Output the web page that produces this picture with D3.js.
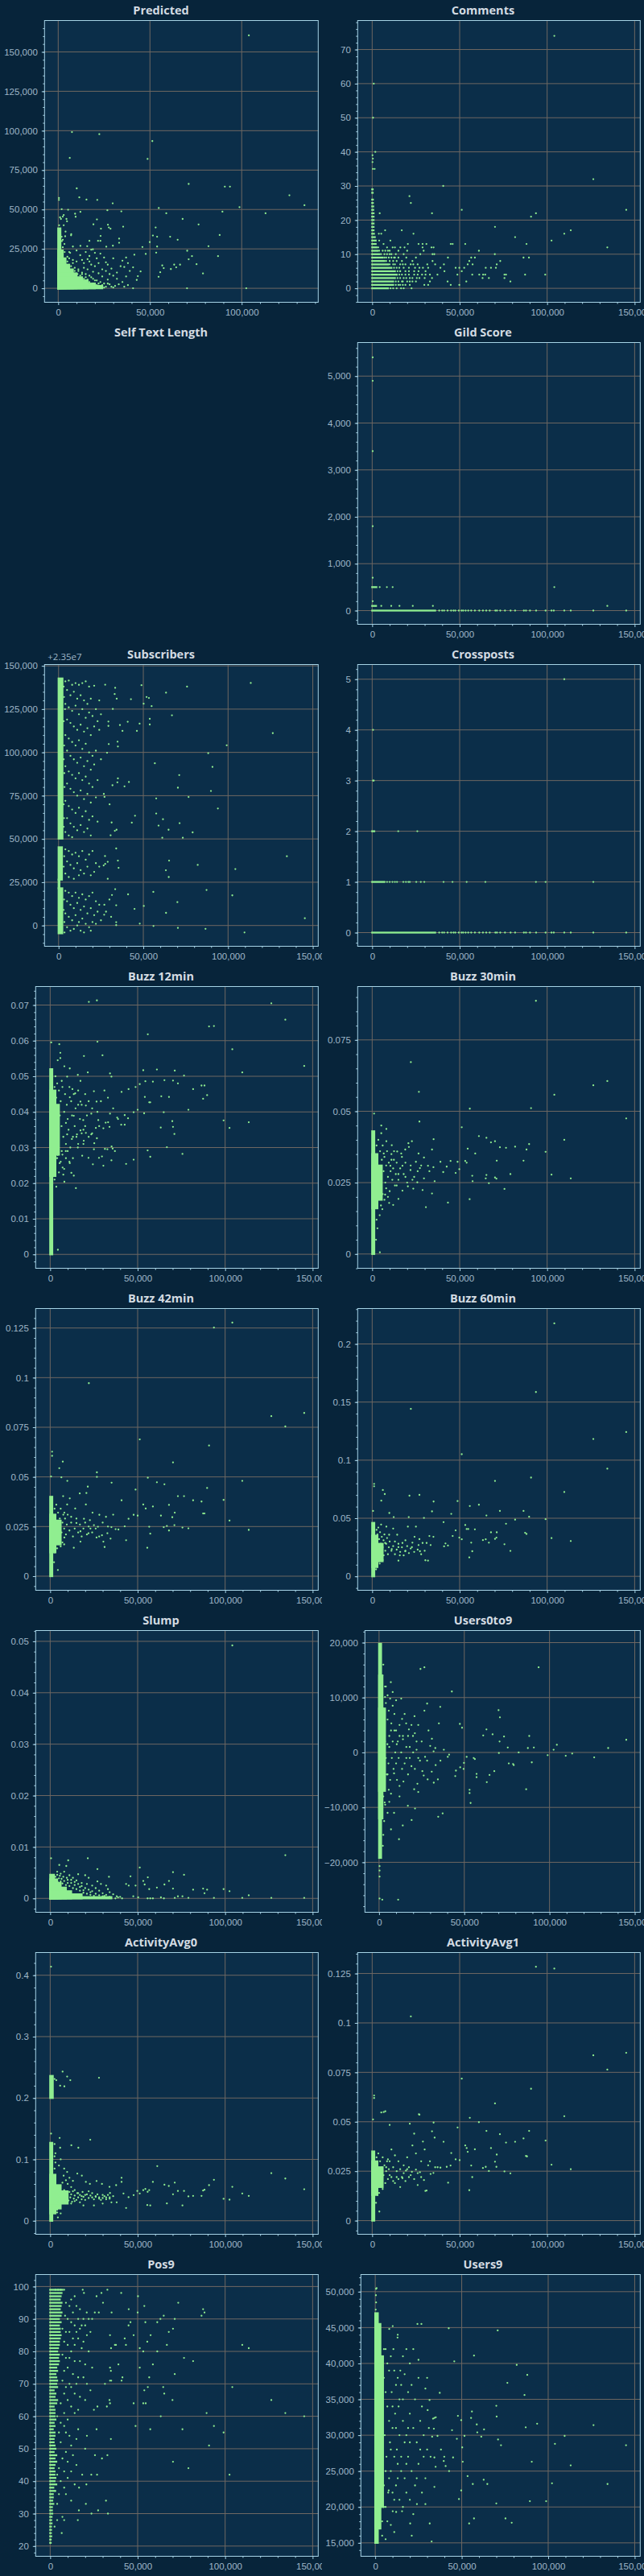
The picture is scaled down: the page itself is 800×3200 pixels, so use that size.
<!DOCTYPE html>
<html>

<head>
    <meta charset="utf-8">
    <style>
        body {
            margin: 0;
            background: #07243a;
        }

        svg {
            display: block;
            font-family: 'Open Sans', 'Noto Sans', sans-serif;
        }

        .tick text {
            fill: #9fb7c8;
            font-size: 11.5px;
        }

        .tick line {
            stroke: #a6d3e6;
        }

        .title {
            fill: #d3dbe2;
            font-size: 14.5px;
            font-weight: 700;
        }

        .offset {
            fill: #9fb7c8;
            font-size: 11.5px;
        }
    </style>
</head>

<body>
    <svg width="800" height="3200"></svg>
</body>

<script src="https://d3js.org/d3.v7.min.js"></script>

<script>
    // x values are in thousands everywhere; y values of Predicted, Subscribers and Users* are in thousands too
    let panelTitles = ["Predicted", "Comments", "Self Text Length", "Gild Score", "Subscribers", "Crossposts",
        "Buzz 12min", "Buzz 30min", "Buzz 42min", "Buzz 60min", "Slump", "Users0to9",
        "ActivityAvg0", "ActivityAvg1", "Pos9", "Users9"]

    let xTickValues = [0, 50, 100, 150]
    let xDomainMain = [-8.3, 153.2]
    let xDomainPredicted = [-7.46, 141.7]

    // ---- Predicted ----
    let predictedYTicks = [0, 25, 50, 75, 100, 125, 150]
    let predictedCore = [[0, 2.5, 0, 24], [0, 1.2, 0, 38], [0, 4, 0, 19], [0, 6, 0, 15], [0, 8, 0, 12], [0, 10, 0, 9.5],
    [0, 13, 0, 7], [0, 16, 0, 5], [0, 20, 0, 3], [0, 24, 0, 1.5]]
    let predictedPoints = [[103.9, 160.5], [7.5, 99.1], [22.4, 97.8], [51.3, 93.4], [6.3, 82.7], [48.7, 82.1], [10.1, 63.4], [71.1, 66.2],
    [90.8, 64.5], [93.6, 64.5], [126.0, 59.0], [134.2, 52.7], [98.8, 51.5], [113.0, 47.6], [89.5, 48.6], [11.5, 57.7], [15.4, 56.3],
    [21.3, 56.1], [29.7, 53.9], [0.4, 57.3], [0.4, 56.1], [54.8, 50.9], [58.9, 47.6], [67.8, 44.0], [76.5, 40.5], [53.1, 38.6],
    [51.6, 33.5], [53.9, 32.7], [61.0, 32.7], [65.1, 30.8], [88.0, 33.8], [49.9, 29.3], [45.9, 26.2], [53.9, 26.5], [81.9, 26.7],
    [53.4, 22.6], [47.7, 21.8], [70.3, 23.8], [72.9, 20.4], [87.1, 20.4], [71.1, 18.4], [41.5, 21.3], [75.4, 15.3], [63.2, 15.0],
    [64.3, 13.3], [66.4, 15.0], [56.7, 14.5], [61.4, 12.2], [57.5, 12.8], [78.9, 9.4], [55.6, 10.2], [54.7, 7.3], [43.4, 7.7],
    [42.8, 5.3], [40.8, 13.3], [44.9, 10.7], [70.2, 0], [102.5, 0], [40.8, 0], [34.4, 48.8], [26.8, 49.5], [27.1, 40.3], [27.6, 38.6],
    [28.5, 37.8], [19.2, 40.6], [21.1, 43.7], [23.3, 37.8], [35.4, 39.1], [33.2, 31.5], [33.2, 28.9], [23.1, 33.2], [21.7, 30.1],
    [23.0, 30.1], [17.0, 30.1], [18.9, 24.7], [12.1, 26.9], [15.8, 26.7], [26.2, 26.4], [29.8, 27.0], [3.4, 28.1], [1.9, 32.7],
    [2.5, 30.8], [7.1, 34.3], [7.0, 33.6], [5.4, 49.8], [1.9, 50.2], [9.2, 47.3], [9.5, 45.4], [12.1, 48.5], [0.5, 40.0], [1.5, 44.0],
    [2.5, 45.5], [3.0, 46.5], [4.5, 44.0], [4.8, 42.5], [1.2, 34.0], [3.8, 33.0], [5, 20], [6.5, 22.5], [8, 18], [10, 17], [13, 18],
    [14, 16], [16, 18.5], [17, 17], [18, 15], [20, 14], [22, 16], [24, 12], [26, 11], [28, 9], [30, 8], [32, 6], [35, 4], [38, 2],
    [36, 1], [30, 0.5], [25, 0.5], [28, 2.5], [32, 10], [34, 14], [36, 13.5], [38, 16], [37, 19.5], [35, 17.5], [30, 19], [29, 12.5],
    [27, 15], [25, 19.5], [23, 22], [20, 22.5], [18, 24.5], [15, 23], [12, 21], [10, 24], [8, 26.5], [6, 23], [9, 13], [11, 11],
    [13, 9], [15, 7], [17, 8], [19, 6], [21, 5], [23, 4], [25, 3], [27, 5.5], [19, 10.5], [22, 9.5], [24, 7.5], [16, 12], [20, 2],
    [33, 2.5], [31, 1.5], [37, 7.5], [39, 11], [21, 19], [14, 13], [12, 6], [26, 16.5], [17, 20.5], [4, 15], [5, 17], [6, 19],
    [7, 14], [8, 16], [9, 11], [10.5, 9], [11, 12], [12, 8], [13, 10], [14, 6], [15, 9], [16, 5.5], [17, 4], [18, 7], [19, 3],
    [20, 5], [21, 2], [22, 3], [23, 1], [24, 2], [26, 1], [27, 3], [29, 1], [2, 30], [1, 45], [3, 40], [4, 36], [2.5, 26], [3.5, 23]]

    // ---- Comments ----
    let commentsYTicks = [0, 10, 20, 30, 40, 50, 60, 70]
    let commentsRows = [[0, 9], [1, 12], [2, 12], [3, 13], [4, 14], [5, 13], [6, 11], [7, 9], [8, 7], [9, 6], [10, 4], [11, 3],
    [12, 2.5], [13, 2], [14, 2], [15, 1.5], [16, 1], [17, 0.8], [18, 0.8], [19, 0.8], [20, 0.8], [21, 0.8], [22, 0.8], [23, 0.6],
    [24, 0.6], [25, 0.4], [26, 0.4], [28, 0.3], [29, 0.3]]
    let commentsPoints = [[104.1, 74], [0.9, 60], [0.5, 50], [1.8, 40], [0.2, 39], [0.4, 38], [0.2, 37], [0.4, 35], [1.4, 35], [126.4, 32],
    [40.6, 30], [21.3, 27], [22.1, 25], [145.2, 23], [51.2, 23], [34.2, 22], [93.6, 22], [90.8, 21], [4.3, 22], [70.2, 18], [113.5, 17],
    [16.9, 17], [7.4, 17], [109.8, 16], [23.6, 16], [3.8, 16], [5.2, 16], [102.5, 14], [81.7, 15], [10.4, 14], [88.2, 13], [53.2, 13],
    [44.9, 13], [46.0, 13], [20.4, 13], [26.5, 13], [28.8, 13], [134.4, 12], [11.7, 12], [16.1, 12], [28.8, 12], [33.9, 12], [35.1, 12],
    [61.0, 11], [70.1, 10], [86.5, 9], [89.6, 9], [73.2, 8], [58.7, 9], [56.6, 9], [55.5, 8], [54.6, 7], [57.4, 7], [71.2, 7], [98.9, 4],
    [87.4, 4], [79.0, 2], [75.6, 4], [76.5, 4], [75.6, 3], [63.4, 4], [64.6, 4], [63.1, 3], [66.7, 3], [61.2, 4], [64.9, 6], [67.9, 6],
    [70.7, 6], [51.2, 5], [53.8, 2], [57.2, 4], [49.8, 1], [44.9, 1], [43.1, 2], [47.7, 6], [49.8, 6], [52.6, 6], [48.7, 4], [39.0, 6],
    [41.0, 7], [41.3, 5], [43.3, 9], [37.3, 4], [34.2, 3], [32.0, 1], [29.8, 1], [33.0, 2], [36.0, 7], [34.5, 8], [34.5, 10], [35.5, 10],
    [31.0, 13], [29.4, 11], [27.5, 10], [25.0, 9], [23.0, 8], [22.0, 7], [24.5, 6], [26.5, 5], [28.5, 4], [30.5, 5], [32.0, 6], [31.5, 7],
    [27.0, 3], [25.0, 2], [21.5, 1], [20.0, 11], [18.0, 10], [19.5, 9], [17.0, 8], [15.0, 11], [13.5, 10], [12.5, 9], [14.0, 6], [16.0, 5],
    [18.0, 3], [20.0, 2], [22.5, 0], [18.0, 0], [16.0, 1], [24.0, 4], [18.5, 12], [13.0, 12], [9.0, 11], [8.5, 12], [6.5, 13], [4.0, 14],
    [3.5, 12], [19, 7], [21, 4], [23, 3], [26, 7], [29, 6], [30, 3], [17, 2], [14, 4], [12, 7], [10, 10], [8, 9],
    [10.5, 0], [12, 0], [14, 0], [16.5, 0], [13.5, 1], [15, 1], [17.5, 1], [19, 1], [13.5, 2], [15, 2], [17.5, 2], [21.5, 2], [23, 2],
    [14.5, 3], [16, 3], [19.5, 3], [21.5, 3], [25.5, 3], [15.5, 4], [17, 4], [19, 4], [26, 4], [30.5, 4], [33, 4], [14.5, 5], [16, 5],
    [19, 5], [21, 5], [24, 5], [12.5, 6], [15.5, 6], [18, 6], [21, 6], [27, 6], [10, 7], [13, 7], [16, 7], [17.5, 7], [23.5, 7],
    [8, 8], [10, 8], [12, 8], [14, 8], [7, 9], [9.5, 9], [11, 9], [13, 9], [15, 9], [5, 10], [7, 10], [8.5, 10], [11, 10], [4, 11],
    [6, 11], [7.5, 11], [10, 11]]

    // posts with large x that sit on y = 0 (Gild Score and Crossposts)
    let sparseZeroX = [38.3, 40, 41.1, 43.1, 45.1, 46.5, 47.5, 49.5, 51.1, 52, 53.4, 54.9, 56.6, 58.7, 61.2, 63.3, 65.2, 67.2, 70.4,
        71.3, 73.2, 75.9, 79.1, 81.7, 86.7, 87.9, 90.2, 93.7, 99.1, 102.5, 103.8, 109.8, 113.5, 126.4, 145.2]

    // ---- Gild Score ----
    let gildYTicks = [0, 1000, 2000, 3000, 4000, 5000]
    let gildRows = [[0, 36], [100, 2.2], [500, 2.4]]
    let gildPoints = [[0.3, 5400], [0.3, 4900], [0.3, 3400], [0.3, 1800], [0.3, 700], [0.3, 200], [4.3, 500], [8.4, 500], [11.7, 500],
    [104.1, 500], [5.2, 100], [10.9, 100], [15.6, 100], [23.2, 100], [34.7, 100], [134.4, 100]]

    // ---- Subscribers (offset +2.35e7) ----
    let subscribersYTicks = [0, 25, 50, 75, 100, 125, 150]
    let subscribersCore = [[0, 2.3, 50.2, 142.7], [0, 2.0, 26.5, 45.2], [0, 0.5, 21.5, 26.5], [0, 2.2, -4.5, 21.5]]
    let subscribersPoints = [[113.4, 140.1], [75.8, 138.0], [126.4, 111.1], [99.2, 104.1], [88.3, 99.5], [90.8, 91.6], [56.8, 93.7],
    [71.2, 86.9], [70.4, 79.6], [89.9, 77.7], [76.7, 74.2], [57.6, 73.4], [94.0, 67.6], [57.6, 64.7], [61.6, 61.4], [59.0, 57.7],
    [64.9, 55.3], [71.4, 59.1], [79.1, 53.8], [73.3, 50.7], [61.2, 50.7], [48.9, 138.8], [63.4, 134.5], [66.9, 121.4], [50.2, 128.1],
    [51.9, 132.0], [53.3, 131.4], [54.9, 126.7], [53.8, 119.4], [53.8, 116.1], [47.8, 116.6], [46.2, 112.4], [42.7, 130.7],
    [40.8, 117.7], [37.7, 112.4], [36.2, 115.8], [33.4, 137.3], [33.1, 133.7], [34.3, 131.0], [34.8, 106.2], [35.0, 103.4],
    [32.0, 125.1], [27.5, 139.1], [29.4, 117.8], [29.4, 115.3], [29.6, 104.8], [28.6, 99.8], [35.0, 85.0], [34.7, 82.7], [31.8, 81.0],
    [38.9, 80.4], [41.5, 82.9], [31.3, 59.5], [30.7, 52.1], [34.2, 55.3], [33.2, 54.7], [27.1, 74.3], [26.7, 76.0], [30.1, 70.0],
    [45.1, 63.4], [43.2, 59.4], [44.8, 9.6], [50.3, 11.3], [47.9, 1.1], [56.0, -0.3], [55.9, 19.4], [41.0, 18.0], [63.4, 7.3],
    [70.1, 13.5], [70.4, -1.4], [86.7, -1.9], [87.3, 20.5], [102.5, 17.4], [109.7, -4.0], [145.3, 4.2], [134.7, 40.0], [104.3, 32.6],
    [82.1, 35.0], [65.2, 37.5], [63.3, 31.9], [65.0, 28.0], [34.0, 44.5], [35.0, 37.5], [35.4, 33.3], [29.0, 36.8], [29.0, 27.0],
    [27.4, 40.1], [26.6, 34.7], [27.5, 35.6], [33.4, 21.0], [34.0, 11.7], [34.0, 1.9], [34.0, 0.2], [31.5, 17.6], [26.9, 6.2],
    [4, 141], [6, 141.5], [8, 139], [10, 140], [12, 139], [14, 140], [16, 141], [18, 138], [21, 138.5], [24, 130], [5, 136], [7, 133],
    [9, 135], [11, 131], [13, 133], [15, 130], [17, 128], [19, 131], [22, 125], [25, 122], [4, 128], [6, 126], [8, 124], [10, 127],
    [12, 122], [14, 125], [16, 120], [18, 123], [20, 121], [23, 118], [5, 119], [7, 117], [9, 115], [11, 113], [13, 116], [15, 112],
    [17, 114], [19, 110], [21, 115], [24, 113], [4, 110], [6, 108], [8, 106], [10, 104], [12, 107], [14, 102], [16, 105], [18, 100],
    [20, 98], [22, 101], [25, 96], [5, 101], [7, 98], [9, 96], [11, 94], [13, 97], [15, 92], [17, 95], [19, 90], [21, 93], [4, 92],
    [6, 89], [8, 87], [10, 85], [12, 88], [14, 84], [16, 86], [18, 82], [20, 80], [23, 84], [5, 82], [7, 79], [9, 77], [11, 75],
    [13, 78], [15, 73], [17, 76], [19, 71], [22, 74], [4, 72], [6, 69], [8, 67], [10, 65], [12, 68], [14, 63], [16, 66], [18, 61],
    [20, 63], [23, 60], [5, 62], [7, 59], [9, 57], [11, 55], [13, 58], [15, 54], [17, 56], [19, 52], [4, 54], [6, 52], [8, 51],
    [4, 44], [6, 43], [8, 41], [10, 42], [12, 40], [14, 43], [16, 38], [18, 41], [20, 43], [22, 36], [24, 34], [5, 37], [7, 35],
    [9, 33], [11, 36], [13, 32], [15, 30], [17, 34], [19, 29], [21, 31], [6, 28], [9, 27], [12, 29], [4, 30], [4, 20], [6, 19],
    [8, 17], [10, 19], [12, 16], [14, 18], [16, 15], [18, 17], [20, 19], [22, 14], [24, 12], [5, 14], [7, 12], [9, 10], [11, 13],
    [13, 9], [15, 11], [17, 7], [19, 10], [21, 6], [23, 8], [4, 7], [6, 5], [8, 3], [10, 6], [12, 2], [14, 4], [16, 1], [18, -1],
    [20, 2], [5, -1], [7, -3], [9, -2], [11, 0], [13, -3], [15, -4], [19, -3], [22, 1], [25, 3], [27, 12], [28, 8], [30, 15], [31, 5],
    [3.5, -4], [3.8, 125], [3.5, 80], [3, 138], [3.2, 132], [3, 118], [3.3, 104], [3, 96], [3.4, 88], [3, 70], [3.2, 62], [3, 57],
    [3.3, 40], [3, 34], [3.2, 15], [3, 9], [3.4, 2]]

    // ---- Crossposts ----
    let crosspostsYTicks = [0, 1, 2, 3, 4, 5]
    let crosspostsRows = [[0, 36], [1, 7], [2, 1.2]]
    let crosspostsPoints = [[109.8, 5], [0.5, 4], [0.5, 3], [0.9, 3], [14.9, 2], [25.8, 2], [8.5, 1], [10, 1], [11.6, 1], [13, 1],
    [14.2, 1], [17.8, 1], [19.3, 1], [20.7, 1], [21.5, 1], [25.2, 1], [27.8, 1], [29.8, 1], [40.8, 1], [45.9, 1], [54.0, 1],
    [64.7, 1], [93.6, 1], [99.1, 1], [126.4, 1]]

    // ---- Buzz 12min ----
    let buzz12YTicks = [0, 0.01, 0.02, 0.03, 0.04, 0.05, 0.06, 0.07]
    let buzz12Core = [[0, 1.2, 0, 0.052], [0, 3, 0.022, 0.046], [0, 5, 0.028, 0.042]]
    let buzz12Points = [[22.1, 0.0709], [26.7, 0.0713], [126.4, 0.0705], [134.4, 0.0659], [90.8, 0.0640], [93.6, 0.0641],
    [55.8, 0.0618], [0.6, 0.0595], [5.2, 0.0590], [27.0, 0.0597], [104.1, 0.0576], [19.3, 0.0557], [29.9, 0.0559], [5.8, 0.0566],
    [145.2, 0.0529], [109.8, 0.0511], [61.0, 0.0519], [71.2, 0.0516], [53.2, 0.0517], [76.5, 0.0502], [21.5, 0.0511], [34.2, 0.0508],
    [35.0, 0.0499], [65.3, 0.0489], [70.2, 0.0488], [73.0, 0.0480], [86.5, 0.0474], [88.2, 0.0474], [81.7, 0.0464], [54.4, 0.0486],
    [51.2, 0.0478], [48.8, 0.0470], [58.7, 0.0485], [44.8, 0.0464], [40.8, 0.0456], [89.7, 0.0447], [87.4, 0.0437], [63.5, 0.0444],
    [67.9, 0.0442], [54.1, 0.0442], [56.6, 0.0427], [57.2, 0.0427], [79.0, 0.0406], [64.9, 0.0399], [53.7, 0.0396], [50.0, 0.0406],
    [47.7, 0.0399], [69.8, 0.0374], [70.2, 0.0358], [71.0, 0.0338], [99.1, 0.0376], [102.5, 0.0355], [113.5, 0.0371], [63.2, 0.0356],
    [66.7, 0.0301], [55.7, 0.0292], [57.2, 0.0274], [75.6, 0.0282], [47.7, 0.0266], [43.4, 0.0254], [14.7, 0.0186], [4.4, 0.0013],
    [42.6, 0.0391], [44.5, 0.0382], [38.3, 0.0384], [40.6, 0.0364], [42.6, 0.0364], [38.8, 0.0380], [37.0, 0.0290], [35.7, 0.0297],
    [35.0, 0.0264], [30.4, 0.0249], [29.6, 0.0275], [27.9, 0.0271], [24.4, 0.0253], [21.9, 0.0271], [25.0, 0.0295], [35.1, 0.0303],
    [32.7, 0.0295], [31.3, 0.0296], [33.9, 0.0358], [33.1, 0.0371], [34.2, 0.0395], [31.7, 0.0370], [30.4, 0.0354], [27.5, 0.0377],
    [26.1, 0.0355], [26.7, 0.0326], [25.2, 0.0312], [23.5, 0.0337], [17.3, 0.0348], [19.2, 0.0319], [20.4, 0.0341], [15.3, 0.0337],
    [12.4, 0.0324], [15.8, 0.0300], [18.3, 0.0277], [9.7, 0.0337], [8.9, 0.0290], [11.2, 0.0256], [12.1, 0.0229], [7.5, 0.0224],
    [7.1, 0.0244], [9.0, 0.0369], [17.3, 0.0429], [14.3, 0.0452], [11.2, 0.0441], [20.4, 0.0418], [23.5, 0.0395], [13.5, 0.0389],
    [6.6, 0.0487], [9.7, 0.0499], [12.7, 0.0464], [17.3, 0.0487], [25.0, 0.0458], [26.5, 0.0429], [18.9, 0.0377], [5.8, 0.0551],
    [4.3, 0.0545], [8.1, 0.0528], [11.2, 0.0522], [15.8, 0.0504], [6.6, 0.0290], [4.3, 0.0279], [5.4, 0.0256], [8.1, 0.0204],
    [13.5, 0.0221], [22, 0.033], [28, 0.036], [19, 0.031], [16, 0.042], [24, 0.041], [2.5, 0.047], [3, 0.05], [3.5, 0.044],
    [4, 0.048], [4.5, 0.041], [5, 0.046], [5.5, 0.039], [6, 0.043], [6.5, 0.036], [7, 0.047], [7.5, 0.033], [8, 0.04], [8.5, 0.045],
    [9, 0.031], [9.5, 0.042], [10, 0.038], [10.5, 0.035], [11, 0.047], [11.5, 0.03], [12, 0.043], [12.5, 0.039], [13, 0.027],
    [13.5, 0.045], [14, 0.036], [14.5, 0.041], [15, 0.033], [16, 0.046], [17, 0.038], [18, 0.042], [19, 0.035], [20, 0.045],
    [21, 0.039], [22, 0.043], [2.5, 0.021], [3, 0.025], [3.5, 0.019], [4, 0.027], [5, 0.023], [6, 0.026], [7, 0.028], [8, 0.024],
    [9, 0.027], [10, 0.029], [11, 0.026], [13, 0.033], [16, 0.031], [18, 0.034], [20, 0.036], [24, 0.034], [27, 0.04], [29, 0.043],
    [31, 0.046], [33, 0.044], [36, 0.041]]

    // ---- Buzz 30min ----
    let buzz30YTicks = [0, 0.025, 0.05, 0.075]
    let buzz30Core = [[0, 1.2, 0, 0.043], [0, 3, 0.016, 0.035], [0, 5.5, 0.019, 0.031]]
    let buzz30Points = [[93.6, 0.0887], [22.1, 0.0672], [134.4, 0.0606], [126.4, 0.0591], [26.7, 0.0568], [104.1, 0.0558],
    [55.8, 0.0509], [90.8, 0.0511], [1.1, 0.0492], [145.2, 0.0475], [27.0, 0.0464], [51.2, 0.0444], [5.2, 0.0450], [8.1, 0.0438],
    [5.2, 0.0423], [109.8, 0.0400], [61.0, 0.0413], [65.3, 0.0407], [67.9, 0.0391], [70.2, 0.0395], [73.0, 0.0374], [76.5, 0.0372],
    [81.7, 0.0376], [89.7, 0.0385], [88.2, 0.0366], [86.5, 0.0327], [99.1, 0.0358], [58.9, 0.0352], [54.6, 0.0369], [53.2, 0.0326],
    [54.0, 0.0320], [71.2, 0.0327], [75.6, 0.0228], [102.5, 0.0278], [113.5, 0.0265], [79.0, 0.0280], [70.2, 0.0268], [71.0, 0.0264],
    [65.3, 0.0277], [64.9, 0.0265], [66.7, 0.0248], [57.2, 0.0274], [57.4, 0.0255], [55.7, 0.0192], [49.8, 0.0297], [47.7, 0.0284],
    [48.8, 0.0323], [44.8, 0.0326], [42.6, 0.0306], [40.6, 0.0287], [39.0, 0.0323], [43.3, 0.0180], [35.1, 0.0402], [34.2, 0.0366],
    [35.0, 0.0304], [32.7, 0.0290], [30.7, 0.0164], [28.8, 0.0224], [34.2, 0.0212], [35.7, 0.0255], [22.7, 0.0395], [20.7, 0.0388],
    [21.0, 0.0375], [18.9, 0.0366], [16.6, 0.0352], [14.3, 0.0359], [12.4, 0.0330], [10.4, 0.0309], [4.4, 0.0006], [17.3, 0.0309],
    [21.9, 0.0294], [25.0, 0.0323], [27.3, 0.0301], [29.6, 0.0265], [25.8, 0.0251], [23.5, 0.0229], [20.4, 0.0237], [17.3, 0.0222],
    [15.0, 0.0193], [12.0, 0.0172], [9.7, 0.0179], [7.4, 0.0208], [5.8, 0.0157], [4.3, 0.0136], [8.1, 0.0395], [11.2, 0.0381],
    [6.6, 0.0352], [29.6, 0.0338], [31.9, 0.0309], [26.5, 0.0352], [19, 0.027], [23, 0.026], [15, 0.028], [11, 0.035], [14, 0.024],
    [2.5, 0.038], [3, 0.034], [3.5, 0.04], [4, 0.03], [4.5, 0.036], [5, 0.027], [5.5, 0.033], [6, 0.038], [6.5, 0.029], [7, 0.034],
    [7.5, 0.025], [8, 0.031], [8.5, 0.036], [9, 0.027], [9.5, 0.032], [10, 0.022], [10.5, 0.029], [11, 0.033], [11.5, 0.026],
    [12, 0.03], [12.5, 0.036], [13, 0.024], [13.5, 0.028], [14, 0.032], [15, 0.026], [16, 0.03], [17, 0.034], [18, 0.028],
    [19, 0.032], [20, 0.025], [22, 0.031], [24, 0.027], [26, 0.029], [28, 0.031], [2.5, 0.018], [3, 0.022], [4, 0.02], [5, 0.017],
    [6, 0.021], [7, 0.019], [8, 0.023], [9, 0.02], [2.5, 0.012], [3, 0.009], [2.2, 0.005]]

    // ---- Buzz 42min ----
    let buzz42YTicks = [0, 0.025, 0.05, 0.075, 0.1, 0.125]
    let buzz42Core = [[0, 1.2, 0, 0.04], [0, 3, 0.012, 0.031], [0, 6, 0.016, 0.028]]
    let buzz42Points = [[104.1, 0.1277], [93.6, 0.1252], [22.1, 0.0972], [145.2, 0.0822], [126.4, 0.0806], [134.4, 0.0754],
    [51.2, 0.0689], [90.8, 0.0658], [1.1, 0.0627], [1.1, 0.0606], [70.2, 0.0573], [7.2, 0.0577], [5.2, 0.0544], [6.4, 0.0498],
    [26.7, 0.0523], [26.7, 0.0500], [0.5, 0.0502], [55.8, 0.0496], [109.8, 0.0480], [61.0, 0.0473], [65.3, 0.0463], [9.8, 0.0480],
    [35.1, 0.0471], [89.7, 0.0444], [48.8, 0.0436], [21.5, 0.0451], [20.7, 0.0419], [16.9, 0.0417], [73.0, 0.0403], [76.5, 0.0403],
    [99.1, 0.0384], [81.7, 0.0382], [86.5, 0.0376], [40.8, 0.0382], [67.9, 0.0359], [53.2, 0.0361], [58.7, 0.0351], [54.6, 0.0341],
    [87.4, 0.0316], [88.2, 0.0316], [71.2, 0.0320], [69.8, 0.0297], [71.0, 0.0257], [63.3, 0.0305], [64.9, 0.0247], [66.7, 0.0253],
    [67.9, 0.0230], [102.5, 0.0280], [113.5, 0.0233], [75.6, 0.0245], [79.0, 0.0241], [56.6, 0.0249], [57.2, 0.0214], [55.5, 0.0143],
    [50.0, 0.0305], [47.7, 0.0309], [44.8, 0.0289], [42.6, 0.0251], [43.4, 0.0181], [39.0, 0.0235], [37.4, 0.0237], [35.0, 0.0247],
    [34.5, 0.0189], [30.4, 0.0174], [31.1, 0.0147], [29.6, 0.0206], [27.3, 0.0249], [25.0, 0.0257], [22.7, 0.0282], [19.3, 0.0289],
    [4.4, 0.0031], [20.4, 0.0361], [24.2, 0.0320], [28.1, 0.0309], [31.9, 0.0299], [32.7, 0.0216], [26.5, 0.0195], [21.9, 0.0216],
    [17.3, 0.0226], [15.0, 0.0268], [12.0, 0.0299], [9.7, 0.0361], [8.1, 0.0320], [14.3, 0.0341], [17.3, 0.0174], [13.5, 0.0143],
    [8.1, 0.0195], [5.8, 0.0174], [7.4, 0.0403], [11.2, 0.0392], [30, 0.027], [36, 0.031], [33, 0.025], [23, 0.024],
    [2.5, 0.034], [3, 0.03], [3.5, 0.036], [4, 0.027], [4.5, 0.032], [5, 0.024], [5.5, 0.029], [6, 0.034], [6.5, 0.022], [7, 0.027],
    [7.5, 0.031], [8, 0.024], [8.5, 0.029], [9, 0.021], [9.5, 0.026], [10, 0.031], [11, 0.023], [12, 0.027], [13, 0.02], [14, 0.024],
    [15, 0.029], [16, 0.022], [17, 0.026], [18, 0.02], [19, 0.024], [20, 0.027], [21, 0.021], [22, 0.025], [24, 0.022], [26, 0.024],
    [28, 0.02], [2.5, 0.012], [3, 0.016], [4, 0.014], [5, 0.018], [6, 0.015], [7, 0.017], [8, 0.016], [2.2, 0.007]]

    // ---- Buzz 60min ----
    let buzz60YTicks = [0, 0.05, 0.1, 0.15, 0.2]
    let buzz60Core = [[0, 1.2, 0, 0.046], [0, 3, 0.008, 0.035], [0, 6, 0.013, 0.028]]
    let buzz60Points = [[104.1, 0.2177], [93.6, 0.1586], [22.1, 0.1441], [145.2, 0.1242], [126.4, 0.1182], [51.2, 0.1051],
    [134.4, 0.0927], [90.8, 0.0850], [70.2, 0.0821], [1.1, 0.0796], [1.1, 0.0775], [6.1, 0.0743], [7.2, 0.0708], [109.8, 0.0726],
    [21.3, 0.0694], [27.0, 0.0701], [5.2, 0.0651], [35.1, 0.0644], [48.8, 0.0648], [55.8, 0.0605], [61.0, 0.0616], [0.5, 0.0563],
    [9.8, 0.0545], [73.0, 0.0563], [86.5, 0.0563], [45.2, 0.0538], [65.3, 0.0524], [89.7, 0.0513], [20.9, 0.0510], [34.2, 0.0559],
    [29.6, 0.0503], [12.3, 0.0510], [99.1, 0.0492], [81.7, 0.0488], [40.8, 0.0467], [76.5, 0.0453], [53.2, 0.0442], [54.0, 0.0407],
    [54.9, 0.0407], [47.7, 0.0396], [49.8, 0.0333], [51.2, 0.0319], [46.0, 0.0347], [43.3, 0.0265], [41.9, 0.0283], [41.1, 0.0258],
    [58.7, 0.0404], [56.6, 0.0290], [57.2, 0.0216], [55.5, 0.0163], [67.9, 0.0379], [64.9, 0.0319], [66.7, 0.0290], [63.3, 0.0312],
    [71.2, 0.0379], [71.0, 0.0333], [70.2, 0.0322], [87.4, 0.0375], [88.2, 0.0365], [102.5, 0.0329], [113.5, 0.0304], [75.6, 0.0276],
    [79.0, 0.0219], [35.0, 0.0340], [33.4, 0.0269], [32.7, 0.0347], [31.1, 0.0287], [30.4, 0.0138], [31.9, 0.0135], [28.8, 0.0287],
    [27.3, 0.0216], [24.2, 0.0340], [22.7, 0.0251], [17.3, 0.0287], [20.4, 0.0428], [18.9, 0.0216], [15.0, 0.0251], [14.3, 0.0358],
    [12.0, 0.0411], [9.7, 0.0358], [8.1, 0.0428], [5.1, 0.0446], [7.4, 0.0287], [11.2, 0.0234], [15.8, 0.0181], [25.0, 0.0428],
    [26.5, 0.0269], [15.0, 0.0135], [4.3, 0.0110], [6.6, 0.0181], [19, 0.031], [23, 0.029], [27, 0.032], [13, 0.03],
    [2.5, 0.04], [3, 0.036], [3.5, 0.042], [4, 0.032], [4.5, 0.038], [5, 0.028], [5.5, 0.034], [6, 0.025], [6.5, 0.031], [7, 0.036],
    [7.5, 0.022], [8, 0.028], [8.5, 0.033], [9, 0.019], [9.5, 0.025], [10, 0.03], [11, 0.022], [12, 0.026], [13, 0.019], [14, 0.023],
    [15, 0.028], [16, 0.021], [17, 0.025], [18, 0.018], [19, 0.022], [20, 0.026], [21, 0.02], [22, 0.024], [24, 0.021], [26, 0.023],
    [28, 0.019], [30, 0.022], [2.5, 0.012], [3, 0.015], [4, 0.013], [5, 0.016], [6, 0.014], [2.2, 0.006]]

    // ---- Slump ----
    let slumpYTicks = [0, 0.01, 0.02, 0.03, 0.04, 0.05]
    let slumpCore = [[0, 2.2, 0, 0.0046], [0, 4, 0, 0.0037], [0, 6, 0, 0.003], [0, 9, 0, 0.0021], [0, 12, 0, 0.0014],
    [0, 18, 0, 0.0008], [0, 35, 0, 0.00025]]
    let slumpPoints = [[104.1, 0.0492], [134.4, 0.0084], [0.5, 0.0078], [21.5, 0.0078], [10.3, 0.0074], [5.2, 0.0065], [9.2, 0.0063],
    [51.2, 0.0060], [27.0, 0.0057], [70.2, 0.0051], [76.5, 0.0046], [45.9, 0.0043], [55.8, 0.0041], [33.6, 0.0042], [67.9, 0.0034],
    [65.3, 0.0027], [53.2, 0.0034], [54.0, 0.0027], [48.8, 0.0025], [44.9, 0.0025], [43.4, 0.0028], [70.2, 0.0019], [61.0, 0.0021],
    [56.6, 0.0018], [99.1, 0.0018], [102.5, 0.0014], [87.4, 0.0019], [89.7, 0.0017], [81.7, 0.0017], [88.2, 0.0010], [113.5, 0.0006],
    [126.4, 0.0001], [145.2, 0.0001], [109.8, 0.0001], [93.6, 0.0001], [79.0, 0.0001], [75.6, 0.0004], [73.0, 0.0004], [71.2, 0.0001],
    [65.0, 0], [63.3, 0.0002], [58.7, 0], [57.2, 0], [55.7, 0], [50.3, 0.0002], [47.5, 0.0004], [41.1, 0], [38.8, 0.0002], [37.3, 0],
    [15, 0.0035], [18, 0.003], [20, 0.0045], [22, 0.004], [24, 0.0025], [26, 0.002], [28, 0.0015], [30, 0.001], [32, 0.0025],
    [34, 0.0012], [36, 0.0008], [13, 0.004], [12, 0.003], [11, 0.0045], [17, 0.0022], [19, 0.0016], [23, 0.0012], [25, 0.0005],
    [8, 0.0052], [6, 0.0048], [4, 0.0052], [14, 0.0026], [29, 0.0028], [31, 0.0005], [38, 0.0004], [40, 0.0003], [21, 0.0028],
    [16, 0.0047], [10, 0.0036], [27, 0.0033], [33, 0.0018], [3, 0.0042], [3.5, 0.0036], [4, 0.0046], [4.5, 0.0031], [5, 0.0039],
    [5.5, 0.0044], [6, 0.0033], [6.5, 0.0038], [7, 0.0029], [7.5, 0.0042], [8, 0.0034], [9, 0.0026], [9.5, 0.004], [10, 0.003],
    [11, 0.0024], [12, 0.0036], [13, 0.002], [14, 0.0032], [15, 0.0018], [16, 0.0028], [17, 0.0015], [18, 0.0024], [19, 0.0011],
    [20, 0.002], [21, 0.0009], [22, 0.0017], [23, 0.0007], [24, 0.0014], [26, 0.0009], [28, 0.0006], [30, 0.0004], [32, 0.0007],
    [34, 0.0003]]

    // ---- Users0to9 ----
    let users0to9YTicks = [-20, -10, 0, 10, 20]
    let users0to9Core = [[0, 1.2, -19.2, 19.8], [0, 2, -12, 14], [0, 3.5, -7, 8]]
    let users0to9Points = [[93.6, 15.5], [24.3, 15.2], [26.6, 15.5], [6.9, 12.8], [42.7, 11.1], [6.5, 9.8], [3.5, 10.1], [5.0, 10.4],
    [70.1, 7.7], [35.9, 8.3], [28.2, 8.9], [26.6, 7.6], [70.9, 6.4], [20.8, 6.6], [47.4, 5.2], [48.7, 4.5], [35.1, 5.3], [63.0, 4.2],
    [66.6, 3.3], [61.1, 3.1], [73.3, 2.9], [145.0, 2.3], [88.1, 3.0], [104.3, 1.4], [102.4, 0.5], [134.4, 0.8], [90.8, 0.9],
    [87.3, 0.8], [75.5, 0.9], [70.7, 2.0], [70.3, -0.1], [81.9, 0], [109.5, -0.6], [113.3, -0.2], [98.9, -0.5], [126.2, -0.9],
    [89.6, -1.8], [78.6, -2.1], [76.1, -2.0], [79.0, -2.3], [67.6, -3.4], [64.8, -4.1], [63.2, -5.4], [57.2, -3.9], [57.2, -4.5],
    [55.5, -1.0], [56.2, -1.2], [53.1, -6.8], [53.1, -7.4], [53.7, -9.2], [86.3, -6.7], [49.6, -3.0], [51.4, -0.8], [49.8, -1.9],
    [45.1, -3.3], [44.7, -4.3], [47.6, -2.7], [40.3, -0.8], [41.1, -0.4], [34.7, -11.7], [37.3, -11.1], [21.1, -10.2], [16.9, -9.7],
    [19.1, -12.3], [13.9, -13.3], [11.7, -15.8], [8.8, -11.0], [3.3, -9.1], [3.6, -9.5], [11.2, -26.8], [1.9, -26.8], [34.5, -4.9],
    [32.1, -5.5], [30.9, -3.5], [33.2, -2.3], [28.5, -4.9], [28.2, -1.5], [26.2, -4.2], [23.0, -7.2], [20.6, -6.7], [22.5, -5.7],
    [25.4, -3.4], [13.5, 6.1], [15.9, 5.3], [17.5, 4.2], [19.9, 3.0], [12.0, 3.0], [10.4, 1.5], [7.2, 5.3], [5.7, 7.6], [4.9, 1.5],
    [8.8, -3.8], [12.0, -6.1], [14.3, -5.3], [5.7, -6.8], [18, 1.0], [22, 0.5], [25, 2.0], [30, 1.2], [32, 0.2], [27, -0.8],
    [24, -1.5], [19, -2.5], [16, -1.0], [14, 2.4], [10, -2.0], [9, 4.0], [21, 3.5], [23, 5.0], [29, 4.0], [31, 2.5], [33, 0.8],
    [36, -1.5], [38, 0.5], [17, -4.0], [12, -8.0], [7, -7.5], [5, -4.0], [6, 3.0], [8, 8.5], [10, 9.5], [13, 9.8], [15, 7.0],
    [4, 12.0], [3, -12.5], [5, -11.0], [7, -14.0], [2.5, -15], [2, 14], [0.3, -20.7], [0.3, -21.5], [0.3, -22.6], [0.3, -26.6],
    [2.5, 8], [3, 5], [3.5, 2], [4, -1], [4.5, -4], [5, 6], [5.5, -2], [6, 1], [6.5, -5], [7, 4], [7.5, -1], [8, 2], [8.5, -3],
    [9, 7], [9.5, 0], [10, 4], [10.5, -5], [11, 2], [11.5, -1], [12, 5], [13, 0], [13.5, -3], [14, 3], [15, -2], [16, 1], [17, 3],
    [18, -1], [19, 5], [20, 0], [21, -3], [22, 2], [23, -1], [2.5, -8], [3, -6], [3.5, 12], [2.5, 16], [2.2, -17], [4, 9], [6, -9],
    [8, 11]]

    // ---- ActivityAvg0 ----
    let activity0YTicks = [0, 0.1, 0.2, 0.3, 0.4]
    let activity0Core = [[0, 1.2, 0, 0.127], [0, 1.5, 0.2, 0.236], [0, 3, 0.012, 0.075], [0, 6, 0.02, 0.058], [0, 10, 0.028, 0.048]]
    let activity0Points = [[0.5, 0.414], [7.1, 0.243], [9.7, 0.235], [11.5, 0.229], [27.9, 0.233], [5.7, 0.220], [8.1, 0.219],
    [3.5, 0.229], [2.5, 0.231], [5.4, 0.135], [22.9, 0.132], [2.5, 0.125], [5.7, 0.119], [12.1, 0.123], [16.1, 0.119], [0.5, 0.142],
    [61.2, 0.089], [126.4, 0.0776], [134.4, 0.0688], [93.6, 0.0668], [145.2, 0.0513], [90.8, 0.058], [104.1, 0.0553], [40.8, 0.070],
    [40.8, 0.0634], [58.7, 0.0634], [71.2, 0.0621], [70.2, 0.0432], [65.3, 0.0587], [67.8, 0.0567], [109.8, 0.0445], [113.5, 0.0405],
    [99.1, 0.0358], [102.5, 0.0344], [87.4, 0.0492], [88.2, 0.0506], [86.5, 0.0405], [81.7, 0.0405], [79, 0.0398], [76.5, 0.0486],
    [73, 0.0486], [75.6, 0.025], [66.7, 0.0283], [49.8, 0.0486], [51.2, 0.0445], [53.2, 0.0499], [54.4, 0.0519], [55.7, 0.0472],
    [56.6, 0.0499], [57.2, 0.025], [55.5, 0.0256], [47.7, 0.0418], [44.8, 0.0384], [43.4, 0.0209], [41.9, 0.0445], [37.7, 0.058],
    [33.9, 0.0553], [34.2, 0.0452], [29.6, 0.06], [26.5, 0.0648], [22.7, 0.06], [20.4, 0.0634], [18.1, 0.0735], [15.5, 0.0769],
    [9.7, 0.0796], [7.7, 0.0735], [4.4, 0.0054], [10, 0.06], [12, 0.055], [14, 0.05], [16, 0.045], [18, 0.04], [20, 0.042],
    [22, 0.048], [24, 0.038], [26, 0.04], [28, 0.036], [30, 0.042], [32, 0.035], [34, 0.038], [36, 0.04], [38, 0.03], [19, 0.025],
    [17, 0.03], [14, 0.032], [12, 0.028], [9, 0.035], [7, 0.03], [5, 0.09], [6, 0.1], [8, 0.085], [11, 0.07], [13, 0.065], [3, 0.11],
    [4, 0.018], [25, 0.025], [30, 0.028], [35, 0.03], [6, 0.012], [4, 0.0135], [10.5, 0.033], [11, 0.047], [11.5, 0.038],
    [12, 0.043], [12.5, 0.031], [13, 0.048], [13.5, 0.036], [14, 0.041], [15, 0.034], [15.5, 0.045], [16, 0.038], [17, 0.042],
    [18, 0.035], [18.5, 0.047], [19, 0.039], [20, 0.034], [21, 0.043], [22, 0.037], [23, 0.041], [24, 0.045], [25, 0.035],
    [26, 0.039], [27, 0.043], [28, 0.038], [29, 0.034], [30, 0.037], [31, 0.04], [32, 0.038], [33, 0.042], [34, 0.036], [3.5, 0.024],
    [4.5, 0.03], [5.5, 0.026], [7, 0.062], [8, 0.05], [9, 0.066], [2.5, 0.085], [3, 0.095], [2.5, 0.105]]

    // ---- ActivityAvg1 ----
    let activity1YTicks = [0, 0.025, 0.05, 0.075, 0.1, 0.125]
    let activity1Core = [[0, 1.2, 0, 0.035], [0, 3, 0.013, 0.03], [0, 6, 0.017, 0.027]]
    let activity1Points = [[93.6, 0.1284], [104.1, 0.1275], [22.1, 0.1033], [145.2, 0.0849], [126.4, 0.0836], [134.4, 0.0764],
    [51.2, 0.0718], [90.8, 0.0667], [70.2, 0.0593], [1.1, 0.0633], [1.1, 0.062], [5.2, 0.0547], [6.6, 0.0549], [7.5, 0.0553],
    [26.7, 0.0538], [27.0, 0.0536], [109.8, 0.0528], [55.8, 0.052], [61.0, 0.0498], [0.5, 0.0512], [35.1, 0.0496], [21.5, 0.049],
    [10.0, 0.0484], [48.8, 0.0471], [65.3, 0.0454], [89.7, 0.0454], [73.0, 0.0437], [86.5, 0.0416], [81.7, 0.0399], [76.5, 0.0395],
    [99.1, 0.0405], [40.8, 0.0399], [45.2, 0.0342], [34.2, 0.0452], [35.7, 0.042], [53.2, 0.038], [54.0, 0.0367], [54.6, 0.0348],
    [58.7, 0.0361], [67.9, 0.0367], [71.2, 0.0334], [70.2, 0.0298], [71.0, 0.0272], [87.9, 0.0327], [88.5, 0.0325], [102.5, 0.0283],
    [113.5, 0.026], [75.6, 0.0249], [79.0, 0.0239], [64.9, 0.0272], [63.3, 0.0266], [66.7, 0.0251], [56.6, 0.0279], [57.2, 0.022],
    [55.5, 0.0154], [50.0, 0.0306], [47.7, 0.031], [44.8, 0.0279], [42.6, 0.0272], [43.4, 0.0192], [39.0, 0.0268], [37.4, 0.027],
    [35.0, 0.0241], [33.4, 0.0236], [31.1, 0.0152], [30.4, 0.015], [29.6, 0.0205], [27.3, 0.0245], [25.0, 0.0258], [22.7, 0.0247],
    [19.3, 0.0253], [17.3, 0.0215], [4.1, 0.0046], [20, 0.032], [23, 0.038], [25, 0.034], [28, 0.03], [30, 0.036], [32, 0.028],
    [18, 0.028], [15, 0.03], [13, 0.033], [11, 0.036], [9, 0.031], [8, 0.027], [14, 0.022], [16, 0.017], [12, 0.02], [10, 0.023],
    [6, 0.016], [4, 0.014], [21, 0.022], [26, 0.018], [33, 0.03], [36, 0.027], [24, 0.044], [29, 0.04], [2.5, 0.032], [3, 0.028],
    [3.5, 0.034], [4, 0.025], [4.5, 0.03], [5, 0.021], [5.5, 0.027], [6, 0.032], [6.5, 0.023], [7, 0.028], [7.5, 0.019], [8, 0.025],
    [8.5, 0.03], [9, 0.021], [9.5, 0.026], [10, 0.03], [11, 0.022], [12, 0.027], [13, 0.019], [14, 0.025], [15, 0.021], [16, 0.026],
    [17, 0.022], [18, 0.024], [19, 0.02], [20, 0.026], [21, 0.027], [22, 0.023], [24, 0.021], [26, 0.024], [28, 0.022], [2.5, 0.015],
    [3, 0.013], [4, 0.018], [2.2, 0.009]]

    // ---- Pos9 ----
    let pos9YTicks = [20, 30, 40, 50, 60, 70, 80, 90, 100]
    let pos9Rows = [[21, 0.3], [22, 0.3], [23, 0.6], [24, 0.4], [25, 0.5], [26, 0.5], [27, 0.8], [28, 0.6], [29, 0.8], [30, 1.2],
    [31, 1.0], [32, 1.0], [33, 1.8], [34, 1.2], [35, 1.5], [36, 1.5], [37, 2.5], [38, 1.8], [39, 3.5], [40, 2.5], [41, 3.0],
    [42, 2.5], [43, 2.5], [44, 2.0], [45, 2.5], [46, 3.5], [47, 2.5], [48, 3.5], [49, 2.0], [50, 3.0], [51, 2.5], [52, 2.0],
    [53, 2.0], [54, 2.5], [55, 2.5], [56, 1.5], [57, 2.5], [58, 2.0], [59, 3.0], [60, 2.5], [61, 2.5], [62, 2.5], [63, 2.0],
    [64, 3.5], [65, 4.0], [66, 2.5], [67, 3.0], [68, 2.0], [69, 4.0], [70, 3.5], [71, 4.0], [72, 3.5], [73, 3.0], [74, 4.0],
    [75, 3.5], [76, 4.5], [77, 5.0], [78, 4.5], [79, 5.0], [80, 4.0], [81, 4.5], [82, 5.0], [83, 5.0], [84, 5.5], [85, 6.0],
    [86, 5.5], [87, 5.5], [88, 5.0], [89, 6.0], [90, 5.0], [91, 6.0], [92, 6.5], [93, 5.5], [94, 6.0], [95, 6.5], [96, 5.5],
    [97, 6.0], [98, 6.5], [99, 7.0]]
    let pos9Points = [[32.7, 99], [18.6, 99], [19.3, 98], [40.6, 98], [29.3, 98], [50.2, 97], [26.5, 97], [30.2, 95], [73.2, 95],
    [53.8, 94], [44.9, 93], [87.4, 93], [88.2, 92], [50.0, 92], [35.1, 92], [27.8, 92], [25.5, 92], [20.9, 92], [86.5, 91], [64.9, 91],
    [63.0, 90], [71.2, 90], [45.9, 89], [54.4, 89], [61.2, 89], [44.8, 88], [70.2, 87], [67.8, 86], [47.7, 85], [57.4, 85], [42.6, 84],
    [34.2, 85], [55.5, 83], [109.8, 82], [113.5, 81], [66.7, 82], [43.3, 82], [37.0, 82], [37.6, 82], [51.2, 81], [34.8, 81],
    [53.2, 80], [61.2, 80], [76.5, 78], [81.7, 77], [58.7, 76], [39.0, 76], [51.2, 75], [34.2, 75], [34.7, 74], [71.2, 73], [56.6, 72],
    [41.3, 72], [40.8, 71], [34.2, 71], [34.9, 71], [31.3, 70], [104.1, 69], [55.8, 69], [64.6, 69], [53.8, 68], [65.2, 67],
    [126.4, 65], [69.9, 65], [33.9, 65], [34.2, 64], [47.7, 64], [53.2, 64], [54.6, 64], [32.4, 63], [27.0, 63], [134.4, 61],
    [89.4, 61], [145.2, 60], [63.2, 60], [48.8, 57], [93.6, 57], [57.2, 56], [75.6, 56], [26.5, 56], [99.1, 55], [34.7, 53],
    [90.8, 51], [32.7, 48], [29.6, 47], [25.6, 48], [70.2, 46], [79.0, 44], [102.5, 42], [26.8, 42], [23.5, 42], [18.3, 42],
    [20.7, 39], [16.5, 38], [31.9, 34], [33.0, 30], [23.6, 30], [27.4, 31], [20.4, 33], [16.4, 31], [15.8, 28], [6.6, 24],
    [3, 99], [4.5, 99], [6, 99], [8, 99], [14, 97], [12, 96], [9, 95], [11, 94], [15, 94], [17, 93], [13, 92], [8.5, 91], [10, 90],
    [16, 90], [19, 90], [22, 90], [24, 90], [12, 89], [14, 88], [18, 88], [20, 88], [7, 87], [9, 86], [11, 86], [15, 86], [17, 87],
    [21, 85], [23, 86], [13, 84], [16, 84], [19, 83], [8, 83], [10, 82], [14, 82], [18, 81], [22, 80], [12, 80], [7, 79], [9, 78],
    [11, 78], [14, 77], [17, 77], [20, 76], [24, 75], [10, 75], [8, 74], [13, 73], [16, 72], [19, 72], [7, 71], [11, 70], [15, 70],
    [21, 70], [9, 69], [12, 69], [23, 68], [8, 67], [14, 67], [17, 66], [10, 65], [20, 65], [6, 64], [12, 63], [16, 62], [25, 62],
    [8, 61], [14, 61], [4, 60], [10, 59], [6, 58], [8, 57], [16, 56], [5, 55], [9, 55], [11, 54], [15, 53], [21, 54], [6, 52],
    [12, 51], [20, 50], [9, 49], [13, 48], [7, 47], [10, 46], [15, 45], [5, 44], [8, 43], [12, 43], [4, 42], [10, 41], [6, 40],
    [14, 39], [8, 38], [3, 37], [5, 36], [9, 36], [12, 34], [4, 33], [7, 29], [8, 28], [4, 28], [2.5, 26]]

    // ---- Users9 ----
    let users9YTicks = [15, 20, 25, 30, 35, 40, 45, 50]
    let users9Core = [[0, 1.5, 15, 47], [0, 3, 17, 45.5], [0, 4.5, 20, 41]]
    let users9Points = [[70.8, 44.6], [42.5, 44.9], [24.4, 45.5], [26.7, 45.5], [10.1, 45.2], [12.9, 43.6], [8.1, 44.8], [57.1, 41.1],
    [45.7, 40.3], [81.8, 39.8], [87.9, 38.4], [76.4, 37.3], [86.3, 35.6], [37.3, 35.9], [70.0, 34.1], [70.2, 32.6], [93.6, 31.6],
    [87.0, 31.1], [126.2, 31.4], [109.5, 29.9], [103.9, 28.8], [145.0, 28.6], [71.0, 29.4], [72.7, 28.6], [90.5, 26.3], [113.0, 25.8],
    [102.2, 23.3], [134.3, 23.2], [62.7, 23.8], [64.8, 23.2], [56.4, 23.2], [89.4, 20.8], [98.8, 20.8], [70.0, 20.5], [75.3, 18.4],
    [78.9, 17.8], [54.3, 17.7], [57.1, 18.4], [48.4, 21.1], [49.7, 22.3], [53.4, 24.3], [50.6, 26.3], [51.6, 29.9], [50.3, 28.3],
    [49.7, 32.1], [47.8, 32.7], [44.4, 30.7], [47.2, 29.5], [58.7, 31.5], [61.3, 29.8], [62.9, 30.8], [55.9, 33.3], [55.4, 32.4],
    [59, 30.4], [32.6, 15.2], [31.5, 17.7], [21.1, 16.0], [29.0, 20.4], [34.2, 22.8], [34.9, 25.6], [34.2, 26.9], [33.4, 32.3],
    [34.2, 32.4], [33.9, 30.9], [39.6, 26.4], [40.7, 25.7], [39.9, 27.0], [45.0, 26.9], [42.7, 25.0], [31.4, 34.9], [30.3, 33.5],
    [32.9, 29.8], [36, 29.9], [24.1, 20.4], [20.2, 17.7], [15.5, 19.4], [12.1, 19.3], [10.1, 19.4], [7.8, 22.3], [5, 42], [7, 40],
    [9, 41], [11, 39], [13, 38], [15, 37], [17, 38.5], [19, 36], [21, 37], [23, 35], [25, 38], [27, 34], [29, 36.5], [14, 35], [10, 34],
    [6, 36], [8, 32], [12, 31], [16, 32], [18, 30], [20, 33], [22, 31], [24, 29], [26, 32], [28, 30], [30, 28], [32, 27], [9, 28],
    [11, 27], [13, 26], [15, 25], [17, 24], [19, 27], [21, 25], [23, 23], [25, 26], [27, 22], [29, 24], [6, 25], [8, 24], [10, 22],
    [12, 23], [14, 21], [16, 20], [18, 22], [20, 21], [22, 19], [5, 20], [7, 18], [9, 17.5], [11, 16.5], [4, 16], [6, 15.5], [13, 44],
    [18, 42], [20, 40], [25, 40.5], [30, 38], [22, 42], [16, 41], [35, 32.5], [38, 28], [28, 27], [31, 31], [24, 24], [26, 28],
    [0.3, 47.5], [0.5, 48.5], [0.4, 49.5], [0.5, 50.4], [0.8, 50.5], [2, 44], [2.5, 40], [3, 36], [3.5, 32], [4, 28], [4.5, 24],
    [5, 38], [5.5, 30], [6, 42], [6.5, 27], [7, 34], [7.5, 22], [8, 39], [8.5, 29], [9, 25], [9.5, 36], [10, 31], [10.5, 42], [11, 21],
    [11.5, 33], [12, 37], [12.5, 28], [13, 24], [13.5, 34], [14, 30], [14.5, 39], [15, 27], [16, 35], [17, 29], [18, 26], [19, 31],
    [20, 29], [2, 19], [2.5, 17], [3, 21], [4, 18], [5, 23], [6, 20]]

    // ---- panel table built from the arrays above (layout only) ----
    let panels = [
        { title: panelTitles[0], row: 0, col: 0, left: 55.3, xDomain: xDomainPredicted, yDomain: [-8.88, 169.9], yTicks: predictedYTicks, yMinor: 5, unit: 1000, points: predictedPoints, core: predictedCore },
        { title: panelTitles[1], row: 0, col: 1, left: 444.3, xDomain: xDomainMain, yDomain: [-4.1, 78.5], yTicks: commentsYTicks, yMinor: 2, unit: 1, points: commentsPoints, rows: commentsRows },
        { title: panelTitles[2], row: 1, col: 0 },
        { title: panelTitles[3], row: 1, col: 1, left: 444.3, xDomain: xDomainMain, yDomain: [-292, 5716], yTicks: gildYTicks, yMinor: 200, unit: 1, points: gildPoints, rows: gildRows, zeroX: sparseZeroX },
        { title: panelTitles[4], row: 2, col: 0, left: 55.3, xDomain: xDomainMain, yDomain: [-12.0, 150.75], yTicks: subscribersYTicks, yMinor: 5, unit: 1000, points: subscribersPoints, core: subscribersCore, offset: "+2.35e7" },
        { title: panelTitles[5], row: 2, col: 1, left: 444.3, xDomain: xDomainMain, yDomain: [-0.27, 5.29], yTicks: crosspostsYTicks, yMinor: 0.2, unit: 1, points: crosspostsPoints, rows: crosspostsRows, zeroX: sparseZeroX },
        { title: panelTitles[6], row: 3, col: 0, left: 44.3, xDomain: xDomainMain, yDomain: [-0.0039, 0.0752], yTicks: buzz12YTicks, yMinor: 0.002, unit: 1, points: buzz12Points, core: buzz12Core },
        { title: panelTitles[7], row: 3, col: 1, left: 444.3, xDomain: xDomainMain, yDomain: [-0.005, 0.0937], yTicks: buzz30YTicks, yMinor: 0.005, unit: 1, points: buzz30Points, core: buzz30Core },
        { title: panelTitles[8], row: 4, col: 0, left: 44.3, xDomain: xDomainMain, yDomain: [-0.0071, 0.1348], yTicks: buzz42YTicks, yMinor: 0.005, unit: 1, points: buzz42Points, core: buzz42Core },
        { title: panelTitles[9], row: 4, col: 1, left: 444.3, xDomain: xDomainMain, yDomain: [-0.012, 0.2305], yTicks: buzz60YTicks, yMinor: 0.01, unit: 1, points: buzz60Points, core: buzz60Core },
        { title: panelTitles[10], row: 5, col: 0, left: 44.3, xDomain: xDomainMain, yDomain: [-0.0027, 0.0521], yTicks: slumpYTicks, yMinor: 0.002, unit: 1, points: slumpPoints, core: slumpCore },
        { title: panelTitles[11], row: 5, col: 1, left: 453.3, xDomain: xDomainMain, yDomain: [-29.1, 22.2], yTicks: users0to9YTicks, yMinor: 2, unit: 1000, points: users0to9Points, core: users0to9Core },
        { title: panelTitles[12], row: 6, col: 0, left: 44.3, xDomain: xDomainMain, yDomain: [-0.022, 0.437], yTicks: activity0YTicks, yMinor: 0.02, unit: 1, points: activity0Points, core: activity0Core },
        { title: panelTitles[13], row: 6, col: 1, left: 444.3, xDomain: xDomainMain, yDomain: [-0.0069, 0.1356], yTicks: activity1YTicks, yMinor: 0.005, unit: 1, points: activity1Points, core: activity1Core },
        { title: panelTitles[14], row: 7, col: 0, left: 44.3, xDomain: xDomainMain, yDomain: [16.85, 103.7], yTicks: pos9YTicks, yMinor: 2, unit: 1, points: pos9Points, rows: pos9Rows },
        { title: panelTitles[15], row: 7, col: 1, left: 448.3, xDomain: xDomainMain, yDomain: [13.13, 52.39], yTicks: users9YTicks, yMinor: 1, unit: 1000, points: users9Points, core: users9Core }
    ]

    let dotColor = "#90ee90"
    let r = 1.15

    let svg = d3.select("svg")
    svg.append("rect").attr("width", 800).attr("height", 3200).attr("fill", "#07243a")
    let defs = svg.append("defs")
    // each column is its own clipped region, like the original sub-figures
    defs.append("clipPath").attr("id", "col0").append("rect").attr("x", 0).attr("y", 0).attr("width", 400).attr("height", 3200)
    defs.append("clipPath").attr("id", "col1").append("rect").attr("x", 400).attr("y", 0).attr("width", 400).attr("height", 3200)

    let fmt = d3.format(",~g")

    function minorTicks(domain, step) {
        let out = []
        let start = Math.ceil(domain[0] / step)
        let end = Math.floor(domain[1] / step)
        for (let i = start; i <= end; i++) out.push(+(i * step).toFixed(6))
        return out
    }

    function drawPanel(p, i) {
        let colX = p.col * 400
        let top = 25.5 + p.row * 400
        let bottom = 375.5 + p.row * 400
        let right = colX + 395.3

        let g = svg.append("g").attr("clip-path", `url(#col${p.col})`)

        g.append("text")
            .attr("class", "title")
            .attr("x", colX + 200)
            .attr("y", 13 + p.row * 400)
            .attr("dy", "0.35em")
            .attr("text-anchor", "middle")
            .text(p.title)

        if (!p.points) return

        let inX = v => v >= p.xDomain[0] && v <= p.xDomain[1]
        let inY = v => v >= p.yDomain[0] && v <= p.yDomain[1]

        let x = d3.scaleLinear().domain(p.xDomain).range([p.left, right])
        let y = d3.scaleLinear().domain(p.yDomain).range([bottom, top])

        g.append("rect")
            .attr("x", p.left).attr("y", top)
            .attr("width", right - p.left).attr("height", bottom - top)
            .attr("fill", "#0b2e49")

        // grid on major ticks
        g.append("g").selectAll("line")
            .data(xTickValues.filter(inX))
            .join("line")
            .attr("x1", d => x(d)).attr("x2", d => x(d))
            .attr("y1", top).attr("y2", bottom)
            .attr("stroke", "#6e6762").attr("stroke-width", 1)

        g.append("g").selectAll("line")
            .data(p.yTicks.filter(inY))
            .join("line")
            .attr("x1", p.left).attr("x2", right)
            .attr("y1", d => y(d)).attr("y2", d => y(d))
            .attr("stroke", "#6e6762").attr("stroke-width", 1)

        let clipId = "plot" + i
        defs.append("clipPath").attr("id", clipId).append("rect")
            .attr("x", p.left).attr("y", top)
            .attr("width", right - p.left).attr("height", bottom - top)

        let marks = g.append("g").attr("clip-path", `url(#${clipId})`).attr("fill", dotColor)

        // solid dense cores: [x0, x1, y0, y1]
        if (p.core) {
            marks.selectAll("rect.core")
                .data(p.core)
                .join("rect")
                .attr("class", "core")
                .attr("x", d => x(d[0]) - r)
                .attr("width", d => x(d[1]) - x(d[0]) + 2 * r)
                .attr("y", d => y(d[3]) - r)
                .attr("height", d => y(d[2]) - y(d[3]) + 2 * r)
        }

        // dense rows of integer values: [y, xEnd]
        if (p.rows) {
            marks.selectAll("rect.row")
                .data(p.rows)
                .join("rect")
                .attr("class", "row")
                .attr("x", x(0) - r)
                .attr("width", d => x(d[1]) - x(0) + 2 * r)
                .attr("y", d => y(d[0]) - r)
                .attr("height", 2 * r)
        }

        if (p.zeroX) {
            marks.selectAll("circle.zero")
                .data(p.zeroX)
                .join("circle")
                .attr("class", "zero")
                .attr("cx", d => x(d))
                .attr("cy", y(0))
                .attr("r", r)
        }

        marks.selectAll("circle.pt")
            .data(p.points)
            .join("circle")
            .attr("class", "pt")
            .attr("cx", d => x(d[0]))
            .attr("cy", d => y(d[1]))
            .attr("r", r)

        // x axis
        let xAxis = g.append("g").attr("transform", `translate(0,${bottom})`)
        xAxis.call(d3.axisBottom(x)
            .tickValues(xTickValues.filter(inX))
            .tickSize(3.5)
            .tickPadding(5)
            .tickFormat(d => fmt(d * 1000)))
        xAxis.append("g").call(d3.axisBottom(x)
            .tickValues(minorTicks(p.xDomain, 10).filter(d => xTickValues.indexOf(d) < 0))
            .tickSize(2)
            .tickFormat(""))
        xAxis.selectAll(".domain").remove()

        // y axis
        let yAxis = g.append("g").attr("transform", `translate(${p.left},0)`)
        yAxis.call(d3.axisLeft(y)
            .tickValues(p.yTicks.filter(inY))
            .tickSize(3.5)
            .tickPadding(5)
            .tickFormat(d => fmt(+(d * p.unit).toFixed(6))))
        yAxis.append("g").call(d3.axisLeft(y)
            .tickValues(minorTicks(p.yDomain, p.yMinor))
            .tickSize(2)
            .tickFormat(""))
        yAxis.selectAll(".domain").remove()

        // frame
        g.append("rect")
            .attr("x", p.left).attr("y", top)
            .attr("width", right - p.left).attr("height", bottom - top)
            .attr("fill", "none")
            .attr("stroke", "#a6d3e6")
            .attr("stroke-width", 1)

        if (p.offset) {
            g.append("text")
                .attr("class", "offset")
                .attr("x", p.left + 4)
                .attr("y", top - 6)
                .text(p.offset)
        }
    }

    panels.forEach(drawPanel)
</script>

</html>
